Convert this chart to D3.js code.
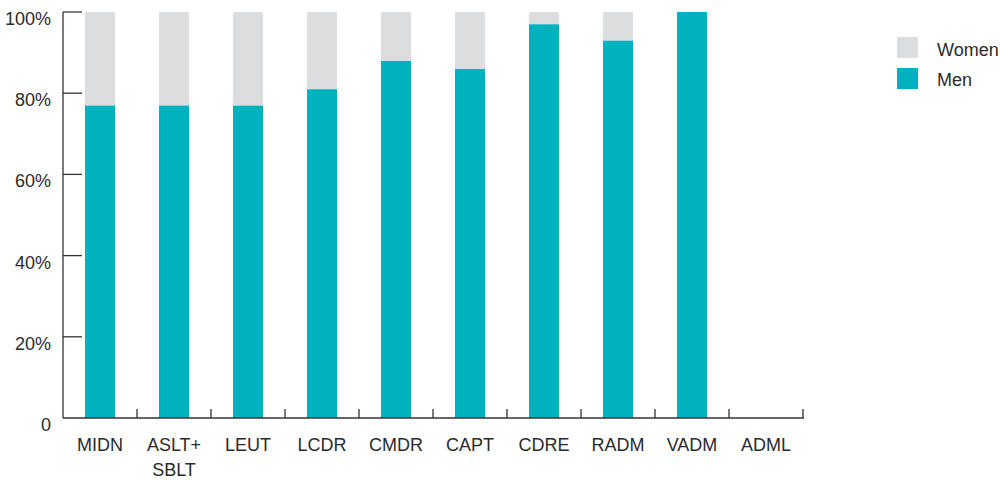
<!DOCTYPE html>
<html><head><meta charset="utf-8">
<script src="https://cdn.jsdelivr.net/npm/d3@7"></script>
<style>body{margin:0;background:#fff}svg{display:block}text{font-family:"Liberation Sans",Arial,sans-serif;fill:#2b2b2b}</style>
</head><body>
<svg id="c" width="1000" height="481"></svg>
<script>
const categories = ["MIDN","ASLT+\nSBLT","LEUT","LCDR","CMDR","CAPT","CDRE","RADM","VADM","ADML"];
const men   = [77,77,77,81,88,86,97,93,100,0];
const women = [23,23,23,19,12,14,3,7,0,0];
const yTicks = [0,20,40,60,80,100];
const yTickLabels = ["0","20%","40%","60%","80%","100%"];
const seriesNames = ["Women","Men"];
const colors = {Men:"#00B2BE", Women:"#DCDDDF"};

const svg = d3.select("#c");
const plotL = 63, plotR = 803, plotT = 12, plotB = 418;
const x = d3.scaleBand().domain(d3.range(categories.length)).range([plotL,plotR]).paddingInner(0).paddingOuter(0);
const y = d3.scaleLinear().domain([0,100]).range([plotB,plotT]);
const bw = 30;

const data = categories.map((c,i)=>({i, Men:men[i], Women:women[i]}));
const stack = d3.stack().keys(["Men","Women"])(data);
svg.append("g").selectAll("g").data(stack).join("g").attr("fill",d=>colors[d.key])
  .selectAll("rect").data(d=>d).join("rect")
  .attr("x",(d,i)=>x(i)+x.bandwidth()/2-bw/2).attr("width",bw)
  .attr("y",d=>y(d[1])).attr("height",d=>Math.max(0,y(d[0])-y(d[1])));

const ax = svg.append("g").attr("stroke","#333").attr("stroke-width",1.3).attr("fill","none");
ax.append("line").attr("x1",plotL).attr("x2",plotL).attr("y1",y(100)).attr("y2",y(0));
ax.append("line").attr("x1",plotL).attr("x2",plotR+1).attr("y1",y(0)).attr("y2",y(0));
yTicks.filter(t=>t>0).forEach(t=>ax.append("line").attr("x1",plotL).attr("x2",plotL+19).attr("y1",y(t)).attr("y2",y(t)));
d3.range(1,categories.length+1).forEach(k=>{
  const xx = k<categories.length ? x(k) : plotR;
  ax.append("line").attr("x1",xx).attr("x2",xx).attr("y1",y(0)).attr("y2",y(0)-9);
});

svg.append("g").selectAll("text").data(yTicks).join("text")
  .attr("x",51).attr("y",d=>y(d)+13).attr("text-anchor","end").attr("font-size",18)
  .text((d,i)=>yTickLabels[i]);

svg.append("g").selectAll("text").data(categories).join("text")
  .attr("text-anchor","middle").attr("font-size",18)
  .attr("transform",(d,i)=>`translate(${x(i)+x.bandwidth()/2},451)`)
  .each(function(d){
    d.split("\n").forEach((s,j)=>d3.select(this).append("tspan").attr("x",0).attr("y",j*25).text(s));
  });

const lg = svg.append("g");
seriesNames.forEach((n,j)=>{
  lg.append("rect").attr("x",897).attr("y",37+j*31).attr("width",21).attr("height",21).attr("fill",colors[n]);
  lg.append("text").attr("x",937).attr("y",56+j*30).attr("font-size",18).text(n);
});
</script>
</body></html>
